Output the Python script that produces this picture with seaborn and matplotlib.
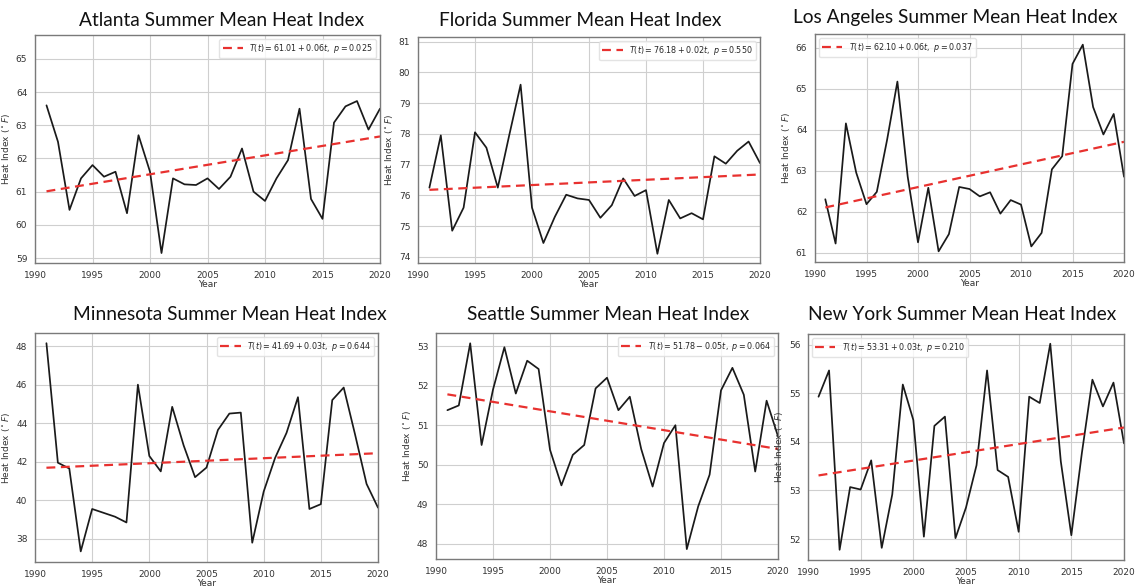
import numpy as np
import pandas as pd
import matplotlib
matplotlib.use("Agg")
import matplotlib.pyplot as plt
import seaborn as sns

years = list(range(1991, 2021))

atlanta = [63.6, 62.5, 60.45, 61.4, 61.8, 61.45, 61.6, 60.35, 62.7, 61.6,
           59.15, 61.4, 61.22, 61.2, 61.4, 61.08, 61.45, 62.3, 61.0, 60.72,
           61.4, 61.95, 63.5, 60.78, 60.18, 63.08, 63.57, 63.73, 62.87, 63.5]
florida = [76.25, 77.95, 74.85, 75.6, 78.05, 77.55, 76.25, 77.95, 79.6, 75.6,
           74.45, 75.3, 76.02, 75.9, 75.85, 75.27, 75.68, 76.55, 75.98, 76.17,
           74.1, 75.85, 75.25, 75.42, 75.22, 77.27, 77.03, 77.45, 77.75, 77.05]
los_angeles = [62.3, 61.22, 64.15, 62.95, 62.18, 62.48, 63.75, 65.17, 62.85, 61.25,
               62.58, 61.03, 61.45, 62.6, 62.55, 62.37, 62.47, 61.95, 62.28, 62.17,
               61.15, 61.48, 63.03, 63.35, 65.6, 66.07, 64.55, 63.88, 64.38, 62.85]
minnesota = [48.15, 41.95, 41.65, 37.35, 39.55, 39.35, 39.15, 38.85, 46.0, 42.3,
             41.5, 44.85, 42.85, 41.2, 41.7, 43.65, 44.5, 44.55, 37.8, 40.45,
             42.2, 43.5, 45.35, 39.55, 39.8, 45.2, 45.85, 43.4, 40.85, 39.62]
seattle = [51.38, 51.5, 53.07, 50.5, 51.9, 52.97, 51.8, 52.63, 52.42, 50.38,
           49.48, 50.25, 50.5, 51.93, 52.2, 51.38, 51.72, 50.4, 49.45, 50.55,
           51.0, 47.87, 48.95, 49.75, 51.88, 52.45, 51.77, 49.83, 51.62, 50.72]
new_york = [54.93, 55.47, 51.78, 53.07, 53.02, 53.62, 51.82, 52.92, 55.18, 54.45,
            52.05, 54.33, 54.52, 52.02, 52.65, 53.52, 55.47, 53.42, 53.28, 52.15,
            54.93, 54.8, 56.02, 53.6, 52.08, 53.77, 55.28, 54.73, 55.22, 53.97]

cities = ["Atlanta", "Florida", "Los Angeles", "Minnesota", "Seattle", "New York"]
series = [atlanta, florida, los_angeles, minnesota, seattle, new_york]
intercepts = [61.01, 76.18, 62.10, 41.69, 51.78, 53.31]
slopes = [0.057, 0.0172, 0.0552, 0.026, -0.0476, 0.034]
p_values = [0.025, 0.550, 0.037, 0.644, 0.064, 0.210]
ylims = [(58.85, 65.72), (73.8, 81.15), (60.77, 66.33),
         (36.8, 48.68), (47.62, 53.33), (51.57, 56.22)]
yticks = [[59, 60, 61, 62, 63, 64, 65], [74, 75, 76, 77, 78, 79, 80, 81],
          [61, 62, 63, 64, 65, 66], [38, 40, 42, 44, 46, 48],
          [48, 49, 50, 51, 52, 53], [52, 53, 54, 55, 56]]
legend_locs = ["upper right", "upper right", "upper left",
               "upper right", "upper right", "upper left"]
xticks = [1990, 1995, 2000, 2005, 2010, 2015, 2020]

sns.set_style("whitegrid")
plt.rcParams["font.family"] = ["DejaVu Sans"]
plt.rcParams["mathtext.fontset"] = "dejavusans"

W, H = 1137, 586
fig = plt.figure(figsize=(W / 100, H / 100), dpi=100)

# axes boxes in pixels: left, top, right, bottom
boxes = [(35, 35, 380, 263), (418, 37, 760, 263), (815, 34, 1124, 262),
         (35, 333, 378, 562), (436, 333, 778, 559), (808, 334, 1124, 560)]
title_pos = [(222, 20), (580, 20), (955, 18), (230, 314), (608, 314), (962, 314)]

for i, city in enumerate(cities):
    l, t, r, b = boxes[i]
    ax = fig.add_axes([l / W, 1 - b / H, (r - l) / W, (b - t) / H])
    df = pd.DataFrame({"Year": years, "HI": series[i]})
    tt = np.array(years) - years[0]
    df["trend"] = intercepts[i] + slopes[i] * tt
    sign = "+" if slopes[i] >= 0 else "-"
    label = (r"$T(t) = %.2f %s %.2ft,\ p = %.3f$"
             % (intercepts[i], sign, abs(slopes[i]), p_values[i]))
    sns.lineplot(data=df, x="Year", y="HI", color="#1a1a1a", lw=1.25, ax=ax)
    sns.lineplot(data=df, x="Year", y="trend", color="#e8312f", lw=1.6,
                 linestyle=(0, (4, 2.5)), ax=ax, label=label)
    ax.set_xlim(1990, 2020)
    ax.set_ylim(*ylims[i])
    ax.set_xticks(xticks)
    ax.set_yticks(yticks[i])
    ax.tick_params(labelsize=6.5, colors="#333333", pad=2)
    ax.set_xlabel("Year", fontsize=6.5, color="#333333", labelpad=0)
    ax.set_ylabel(r"Heat Index ($^\circ F$)", fontsize=6.5, color="#333333",
                  labelpad=3)
    ax.grid(True, color="#cfcfcf", lw=0.8)
    for s in ax.spines.values():
        s.set_color("#7a7a7a")
        s.set_linewidth(1.0)
    leg = ax.legend(loc=legend_locs[i], fontsize=5.8, frameon=True,
                    handlelength=2.5, borderpad=0.4)
    leg.get_frame().set_edgecolor("#dddddd")
    tx, ty = title_pos[i]
    fig.text(tx / W, 1 - ty / H, "%s Summer Mean Heat Index" % city,
             ha="center", va="center", fontsize=13.8,
             family=["Lato", "DejaVu Sans"], color="#111111")

fig.savefig("out.png", dpi=100)
